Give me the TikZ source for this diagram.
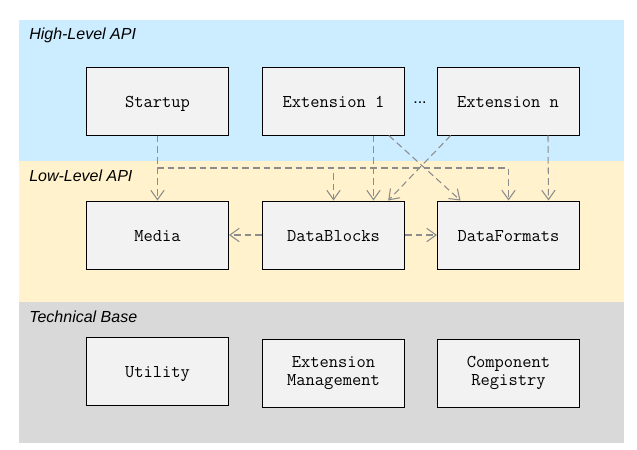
\documentclass[tikz,border=0pt]{standalone}
\usepackage{fontspec}
\setmainfont{Liberation Sans}
\usetikzlibrary{arrows.meta}
\definecolor{highblue}{RGB}{204,236,255}
\definecolor{lowyellow}{RGB}{255,242,204}
\definecolor{basegray}{RGB}{217,217,217}
\definecolor{boxfill}{RGB}{242,242,242}
\definecolor{depgray}{RGB}{140,140,140}
\tikzset{
  module/.style={draw=black, fill=boxfill, line width=0.75pt, minimum width=106.5pt, minimum height=51pt, align=center, font=\fontsize{13.5}{14}\selectfont\ttfamily},
  oneline/.style={module, text height=9pt, text depth=0pt},
  layer/.style={anchor=west, inner sep=0pt, font=\fontsize{12}{14}\selectfont\itshape},
  dep/.style={depgray, line width=0.8pt, dash pattern=on 5pt off 3pt, -{Straight Barb[length=7pt,width=10pt]}}
}
\begin{document}
\begin{tikzpicture}[x=0.75pt,y=-0.75pt]
\useasboundingbox (0,0) rectangle (637,450);
% layers
\fill[highblue] (19,20) rectangle (624,161);
\fill[lowyellow] (19,161) rectangle (624,302);
\fill[basegray] (19,302) rectangle (624,443);

\node[layer] (highlabel) at (29,35) {High-Level API};
\node[layer] (lowlabel) at (29,176) {Low-Level API};
\node[layer] (baselabel) at (29,317) {Technical Base};

% high level
\node[oneline] (startup) at (157.5,101) {Startup};
\node[oneline] (extone) at (333.5,101) {Extension 1};
\node[oneline] (extn) at (508,101) {Extension n};
\node[anchor=base] (dots) at (420,103) {\fontsize{12}{14}\selectfont ...};

% low level
\node[oneline] (media) at (157.5,235) {Media};
\node[oneline] (datablocks) at (333.5,235) {DataBlocks};
\node[oneline] (dataformats) at (508.5,235) {DataFormats};

% technical base
\node[oneline] (utility) at (157.5,371) {Utility};
\node[module] (extmgmt) at (333.5,373) {Extension\\Management};
\node[module] (registry) at (508.5,373) {Component\\Registry};

% dependencies
\coordinate (bus) at (0,168);
\draw[dep] (startup.south) -- (media.north);
\draw[dep] (startup.south) |- (bus -| datablocks.north) -- (datablocks.north);
\draw[dep] (startup.south) |- (bus -| dataformats.north) -- (dataformats.north);
\draw[dep] ([xshift=30pt]extone.south) -- ([xshift=30pt]datablocks.north);
\draw[dep] ([xshift=41.5pt]extone.south) -- ([xshift=-36pt]dataformats.north);
\draw[dep] ([xshift=-43pt]extn.south) -- ([xshift=41pt]datablocks.north);
\draw[dep] ([xshift=30pt]extn.south) -- ([xshift=30pt]dataformats.north);
\draw[dep] (datablocks.west) -- (media.east);
\draw[dep] (datablocks.east) -- (dataformats.west);
\end{tikzpicture}
\end{document}
